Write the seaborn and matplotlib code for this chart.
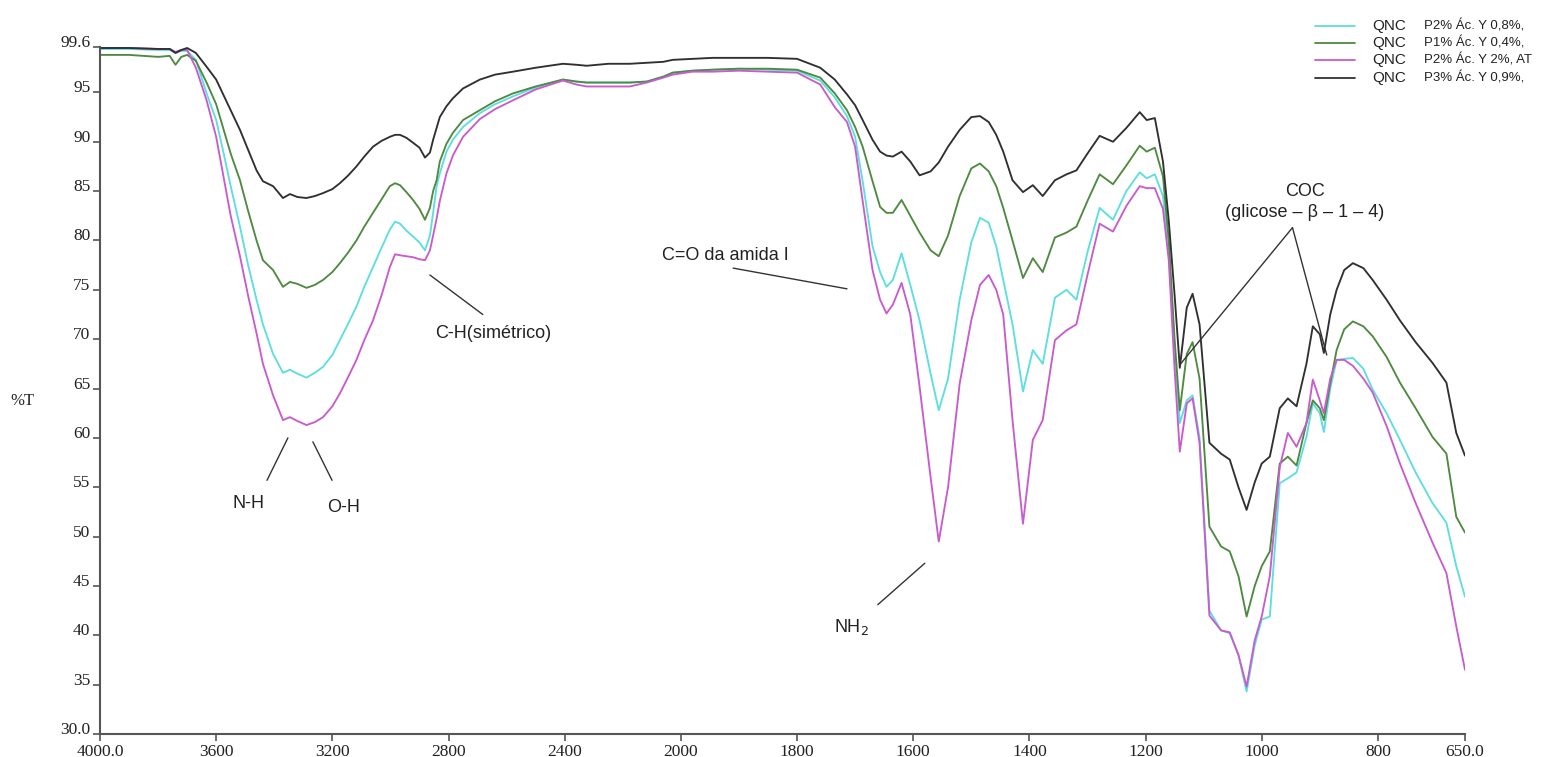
import numpy as np
import pandas as pd
import matplotlib
matplotlib.use("Agg")
import matplotlib.pyplot as plt
from matplotlib.lines import Line2D
import seaborn as sns


wavenumber = [
    4000, 3900, 3800, 3760, 3740, 3720, 3700, 3670, 3633, 3600,
    3577, 3550, 3518, 3490, 3461, 3439, 3404, 3370, 3346, 3320,
    3289, 3260, 3232, 3200, 3174, 3145, 3117, 3090, 3060, 3030,
    3002, 2984, 2967, 2945, 2922, 2900, 2881, 2864, 2853, 2841,
    2830, 2807, 2785, 2750, 2692, 2640, 2578, 2500, 2406, 2360,
    2324, 2250, 2176, 2117, 2060, 2028, 1980, 1945, 1900, 1850,
    1800, 1760, 1735, 1714, 1700, 1687, 1670, 1657, 1646, 1635,
    1620, 1605, 1589, 1570, 1556, 1540, 1520, 1500, 1485, 1470,
    1457, 1445, 1429, 1411, 1394, 1377, 1356, 1336, 1319, 1300,
    1279, 1256, 1233, 1210, 1198, 1184, 1170, 1160, 1150, 1141,
    1129, 1119, 1107, 1090, 1070, 1055, 1040, 1026, 1012, 1000,
    986, 969, 955, 940, 923, 912, 900, 893, 882, 871,
    858, 843, 825, 809, 785, 762, 735, 706, 682, 665,
    650,
]

t_p2_08 = [  # ciano
    99.4, 99.4, 99.3, 99.3, 99.0, 99.2, 99.2, 98.3, 94.9, 92.2,
    89.2, 85.5, 81.4, 77.5, 74.0, 71.5, 68.5, 66.6, 66.9, 66.5,
    66.1, 66.6, 67.2, 68.4, 69.9, 71.6, 73.3, 75.3, 77.3, 79.3,
    81.1, 81.9, 81.7, 81.0, 80.4, 79.8, 79.0, 80.5, 82.8, 85.5,
    86.8, 89.0, 90.2, 91.5, 92.9, 93.8, 94.6, 95.5, 96.3, 96.1,
    96.0, 96.0, 96.0, 96.1, 96.6, 97.0, 97.2, 97.3, 97.4, 97.3,
    97.2, 96.2, 94.5, 92.6, 90.5, 86.0, 79.4, 76.8, 75.3, 76.0,
    78.7, 75.5, 71.9, 66.5, 62.8, 66.0, 74.0, 79.8, 82.3, 81.8,
    79.4, 76.0, 71.5, 64.7, 68.9, 67.5, 74.2, 75.0, 74.0, 78.8,
    83.3, 82.1, 85.0, 86.9, 86.3, 86.7, 84.5, 79.0, 69.0, 61.5,
    63.8, 64.3, 60.0, 42.5, 40.5, 40.2, 38.0, 34.3, 39.0, 41.6,
    41.9, 55.4, 55.9, 56.5, 60.1, 63.5, 62.5, 60.6, 65.0, 67.9,
    68.0, 68.1, 67.0, 64.9, 62.5, 59.8, 56.5, 53.4, 51.4, 47.0,
    43.9,
]

t_p1_04 = [  # verde
    98.8, 98.8, 98.6, 98.7, 97.8, 98.6, 98.8, 98.2, 96.0, 93.8,
    91.5, 88.8, 86.1, 83.0, 80.0, 78.0, 77.0, 75.3, 75.8, 75.6,
    75.2, 75.5, 76.0, 76.8, 77.7, 78.8, 80.0, 81.4, 82.8, 84.2,
    85.5, 85.8, 85.6, 84.9, 84.1, 83.2, 82.1, 83.3, 85.0, 86.1,
    88.0, 89.8, 90.9, 92.2, 93.2, 94.1, 94.9, 95.6, 96.3, 96.1,
    96.0, 96.0, 96.0, 96.1, 96.6, 97.0, 97.2, 97.3, 97.4, 97.4,
    97.3, 96.5, 94.9, 93.2, 91.5, 89.5, 86.0, 83.4, 82.8, 82.8,
    84.1, 82.5, 80.8, 79.0, 78.4, 80.5, 84.5, 87.3, 87.8, 87.0,
    85.5, 83.3, 80.0, 76.2, 78.2, 76.8, 80.3, 80.8, 81.4, 84.0,
    86.7, 85.7, 87.6, 89.6, 89.0, 89.4, 86.5, 80.0, 70.0, 62.8,
    68.5, 69.7, 66.0, 51.0, 49.0, 48.5, 46.0, 41.9, 45.0, 47.0,
    48.5, 57.4, 58.1, 57.2, 61.5, 63.8, 63.0, 61.8, 65.5, 68.9,
    71.0, 71.8, 71.3, 70.3, 68.2, 65.6, 63.0, 60.1, 58.4, 52.0,
    50.4,
]

t_p2_2 = [  # magenta
    99.5, 99.5, 99.4, 99.4, 99.1, 99.3, 99.3, 97.5, 94.2, 90.5,
    86.8, 82.5, 78.4, 74.4, 70.6, 67.5, 64.3, 61.8, 62.1, 61.7,
    61.3, 61.6, 62.1, 63.2, 64.5, 66.2, 67.9, 69.9, 71.9, 74.5,
    77.3, 78.6, 78.5, 78.4, 78.3, 78.1, 78.0, 79.0, 80.5, 82.2,
    84.0, 86.8, 88.6, 90.5, 92.3, 93.3, 94.2, 95.3, 96.2, 95.8,
    95.6, 95.6, 95.6, 96.0, 96.5, 96.8, 97.1, 97.1, 97.2, 97.1,
    97.0, 95.8, 93.5, 92.0, 89.5, 84.0, 77.0, 74.0, 72.6, 73.5,
    75.7, 72.5, 65.2, 56.0, 49.5, 55.0, 65.5, 71.9, 75.5, 76.5,
    75.0, 72.5, 61.8, 51.3, 59.8, 61.8, 69.9, 70.9, 71.5, 76.5,
    81.7, 80.9, 83.5, 85.5, 85.3, 85.3, 83.2, 78.0, 67.0, 58.6,
    63.5, 64.0, 59.5, 42.0, 40.5, 40.3, 38.0, 34.8, 39.5, 41.9,
    46.0, 57.0, 60.5, 59.1, 61.5, 65.9, 63.8, 62.5, 66.0, 67.9,
    67.9, 67.3, 66.0, 64.6, 61.2, 57.4, 53.4, 49.4, 46.3, 40.9,
    36.5,
]

t_p3_09 = [  # preto
    99.5, 99.5, 99.4, 99.4, 99.0, 99.3, 99.5, 99.0, 97.6, 96.3,
    94.9, 93.2, 91.2, 89.2, 87.1, 86.0, 85.5, 84.3, 84.7, 84.4,
    84.3, 84.5, 84.8, 85.2, 85.8, 86.6, 87.5, 88.5, 89.5, 90.1,
    90.5, 90.7, 90.7, 90.4, 89.9, 89.4, 88.4, 88.9, 90.2, 91.4,
    92.5, 93.6, 94.4, 95.4, 96.3, 96.8, 97.1, 97.5, 97.9, 97.8,
    97.7, 97.9, 97.9, 98.0, 98.1, 98.3, 98.4, 98.5, 98.5, 98.5,
    98.4, 97.5, 96.3, 94.8, 93.7, 92.2, 90.2, 89.0, 88.6, 88.5,
    89.0, 88.0, 86.6, 87.0, 87.9, 89.5, 91.2, 92.5, 92.6, 92.0,
    90.7, 89.0, 86.1, 84.9, 85.6, 84.5, 86.1, 86.7, 87.1, 88.8,
    90.6, 90.0, 91.4, 93.0, 92.2, 92.4, 88.0, 82.0, 74.5, 67.1,
    73.2, 74.6, 71.5, 59.5, 58.4, 57.8, 55.0, 52.7, 55.5, 57.4,
    58.1, 63.0, 64.0, 63.2, 67.5, 71.3, 70.5, 68.6, 72.5, 75.0,
    77.0, 77.7, 77.2, 76.0, 74.0, 71.9, 69.7, 67.6, 65.6, 60.5,
    58.2,
]

series_labels = ["P2% Ác. Y 0,8%,", "P1% Ác. Y 0,4%,", "P2% Ác. Y 2%, AT", "P3% Ác. Y 0,9%,"]
series_values = [t_p2_08, t_p1_04, t_p2_2, t_p3_09]
series_colors = ["#5edede", "#4e8a40", "#c85ccc", "#303030"]

x_ticks = [4000, 3600, 3200, 2800, 2400, 2000, 1800, 1600, 1400, 1200, 1000, 800, 650]
x_tick_labels = ["4000.0", "3600", "3200", "2800", "2400", "2000", "1800",
                 "1600", "1400", "1200", "1000", "800", "650.0"]
y_ticks = [30, 35, 40, 45, 50, 55, 60, 65, 70, 75, 80, 85, 90, 95, 99.6]
y_tick_labels = ["30.0", "35", "40", "45", "50", "55", "60", "65", "70",
                 "75", "80", "85", "90", "95", "99.6"]

sns.set_theme(style="ticks")
plt.rcParams["font.family"] = ["Liberation Sans", "DejaVu Sans"]
SERIF = ["Liberation Serif", "DejaVu Serif"]


# escala do espectrômetro: acima de 2000 cm-1 o eixo é comprimido pela metade
def _fwd(x):
    x = np.asarray(x, dtype=float)
    return np.where(x > 2000, 2000 + (x - 2000) / 2.0, x)


def _inv(u):
    u = np.asarray(u, dtype=float)
    return np.where(u > 2000, 2000 + (u - 2000) * 2.0, u)


frames = []
for lab, vals in zip(series_labels, series_values):
    frames.append(pd.DataFrame({"wn": wavenumber, "T": vals, "amostra": lab}))
df = pd.concat(frames, ignore_index=True)

W, H = 1547, 757
fig = plt.figure(figsize=(W / 100, H / 100), dpi=100)
ax = fig.add_axes([100 / W, 23 / H, 1365 / W, 687 / H])

sns.lineplot(data=df, x="wn", y="T", hue="amostra",
             palette=dict(zip(series_labels, series_colors)),
             estimator=None, linewidth=1.35, legend=False, ax=ax)

ax.set_xscale("function", functions=(_fwd, _inv))
ax.set_xlim(4000, 650)
ax.set_ylim(30, 99.6)

ax.set_xticks(x_ticks)
ax.set_xticklabels(x_tick_labels, family=SERIF, fontsize=12.5)
ax.set_yticks(y_ticks)
ax.set_yticklabels(y_tick_labels, family=SERIF, fontsize=12.5)
ax.minorticks_off()
for lbl in ax.get_yticklabels():
    lbl.set_verticalalignment("baseline")
ax.tick_params(axis="both", direction="out", length=5, width=1.2,
               color="#555555", labelcolor="#222222", pad=2)

sns.despine(ax=ax)
for side in ("left", "bottom"):
    ax.spines[side].set_color("#555555")
    ax.spines[side].set_linewidth(1.5)

ax.set_xlabel("")
ax.set_ylabel("%T", rotation=0, family=SERIF, fontsize=12, color="#222222")
ax.yaxis.set_label_coords(-0.057, 0.473)

# anotações das bandas
line_kw = dict(arrowstyle="-", color="#333333", lw=1.0, shrinkA=0, shrinkB=0)
txt_kw = dict(fontsize=13, color="#222222", ha="center", va="center")

ax.text(3490, 53.4, "N-H", **txt_kw)
ax.annotate("", xy=(3353, 60.0), xytext=(3425, 55.7), arrowprops=line_kw)
ax.text(3163, 52.9, "O-H", **txt_kw)
ax.annotate("", xy=(3267, 59.6), xytext=(3201, 55.7), arrowprops=line_kw)
ax.text(2647, 70.6, "C-H(simétrico)", **txt_kw)
ax.annotate("", xy=(2864, 76.5), xytext=(2682, 72.5), arrowprops=line_kw)
ax.text(1923, 78.5, "C=O da amida I", **txt_kw)
ax.annotate("", xy=(1714, 75.1), xytext=(1910, 77.2), arrowprops=line_kw)
ax.text(1706, 40.8, "NH$_2$", **txt_kw)
ax.annotate("", xy=(1580, 47.3), xytext=(1661, 43.1), arrowprops=line_kw)
ax.text(926, 83.9, "COC\n(glicose – β – 1 – 4)", linespacing=1.25, **txt_kw)
ax.annotate("", xy=(1141, 67.4), xytext=(947, 81.3), arrowprops=line_kw)
ax.annotate("", xy=(888, 68.4), xytext=(947, 81.3), arrowprops=line_kw)

# legenda desenhada à mão, como no original (cortada na borda direita)
leg_rows = [26, 43, 60, 78]
for py, lab, col in zip(leg_rows, series_labels, series_colors):
    yf = 1 - py / H
    fig.add_artist(Line2D([1315 / W, 1355 / W], [yf, yf], color=col, lw=1.3))
    fig.text(1372 / W, yf, "QNC", fontsize=11, color="#222222", va="center")
    fig.text(1424 / W, yf, lab, fontsize=9.5, color="#222222", va="center")

fig.savefig("out.png", dpi=100)
